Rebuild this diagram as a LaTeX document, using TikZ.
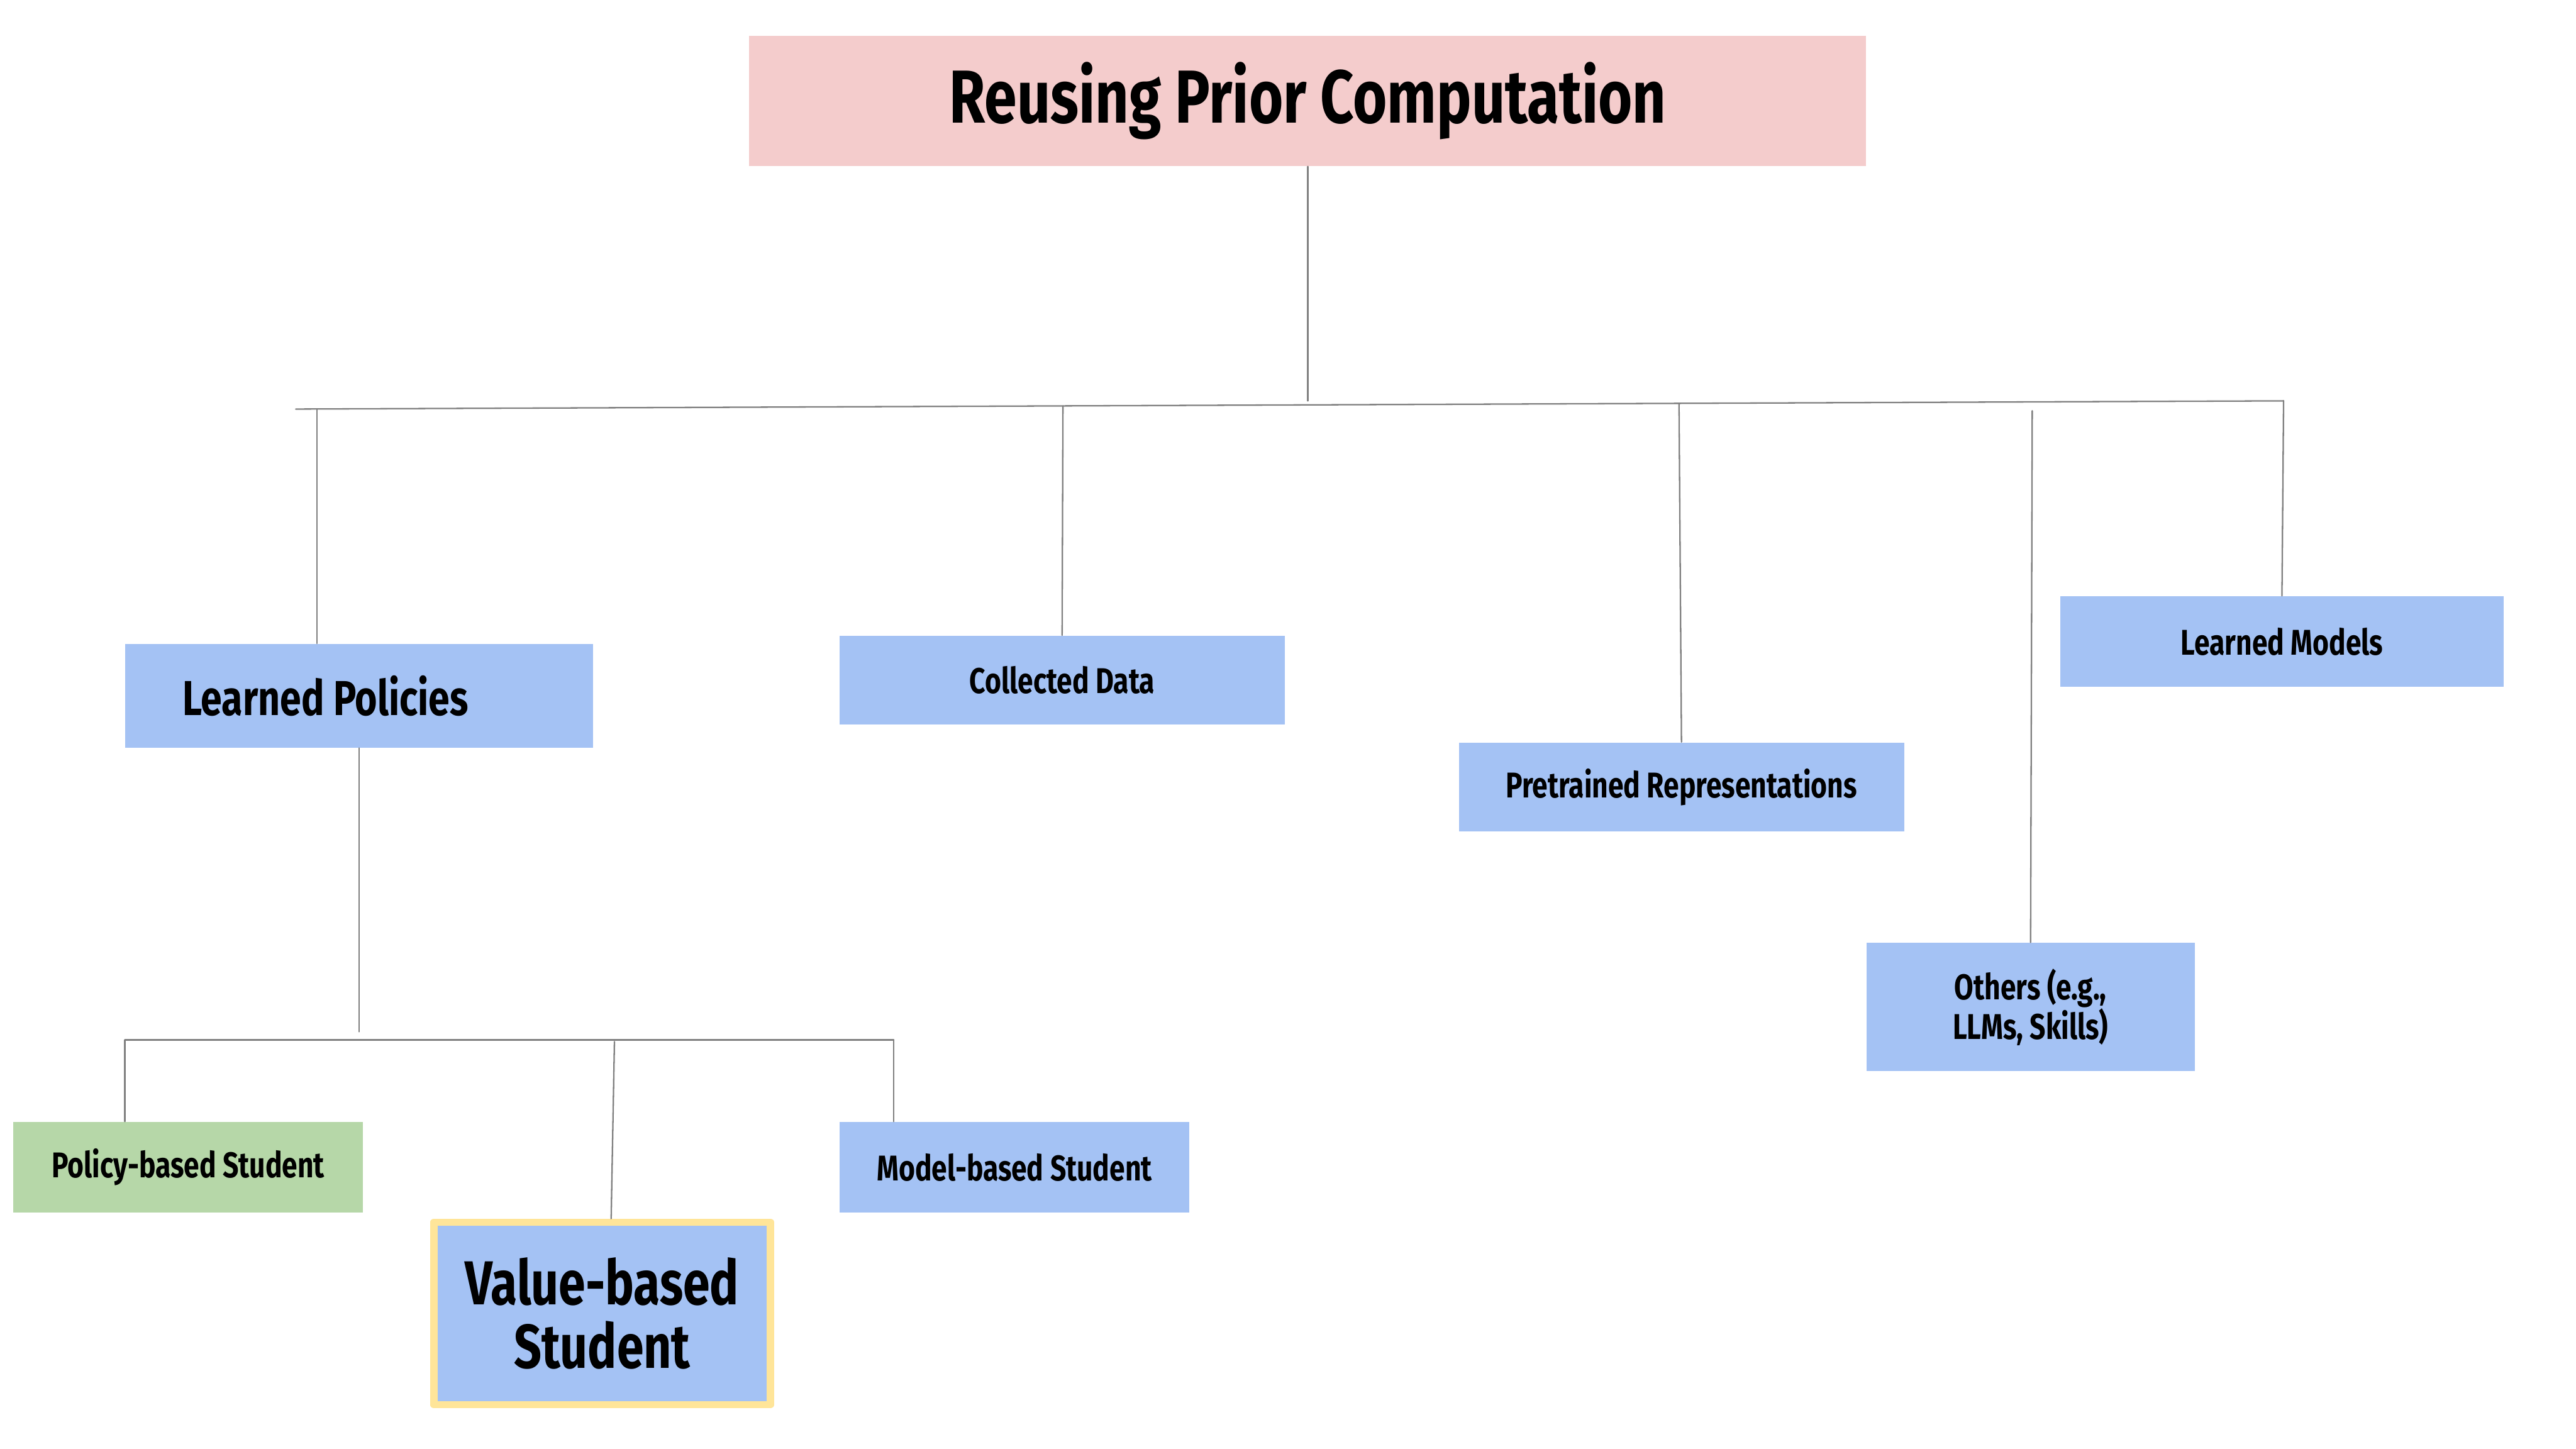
\documentclass[tikz,border=0pt]{standalone}
\usepackage{fontspec}
\setmainfont{Fira Sans}[FakeStretch=0.78]
\definecolor{rootpink}{HTML}{F4CCCC}
\definecolor{boxblue}{HTML}{A4C2F4}
\definecolor{boxgreen}{HTML}{B6D7A8}
\definecolor{markyellow}{HTML}{FFE599}
\tikzset{
  link/.style={draw=black!50, line width=0.5pt},
  topbox/.style={fill=boxblue, inner sep=0pt, align=center,
    minimum width=5.42cm, minimum height=1.08cm,
    font=\bfseries\fontsize{12.4}{13.8}\selectfont},
  leafbox/.style={topbox, minimum width=4.26cm, minimum height=1.1cm}
}
\begin{document}
\begin{tikzpicture}[x=0.02cm, y=-0.02cm, line cap=round, line join=round]
  \useasboundingbox (0,0) rectangle (1568,882);

  % Wurzel
  \node[fill=rootpink, minimum width=13.6cm, minimum height=1.58cm,
    inner sep=0pt, font=\bfseries\fontsize{26}{30}\selectfont]
    (root) at (796,61.5) {Reusing Prior Computation};

  % erste Ebene
  \node[fill=boxblue, inner xsep=0.7cm, inner ysep=0pt,
    minimum height=1.26cm,
    font=\bfseries\fontsize{17}{21}\selectfont]
    (lp) at (218.5,423.5) {\makebox[4.3cm][l]{Learned Policies}};
  \node[topbox] (cd) at (646.5,414) {Collected Data};
  \node[topbox] (pr) at (1023.5,479) {Pretrained Representations};
  \node[topbox, minimum width=4cm, minimum height=1.56cm]
    (oth) at (1236,613) {Others (e.g.,\\LLMs, Skills)};
  \node[topbox, minimum width=5.4cm, minimum height=1.1cm]
    (lm) at (1389,390.5) {Learned Models};

  % zweite Ebene
  \node[leafbox, fill=boxgreen] (pol) at (114.5,710.5) {Policy-based Student};
  \node[leafbox] (mod) at (617.5,710.5) {Model-based Student};
  \node[leafbox, draw=markyellow, line width=0.09cm,
    minimum width=4.1cm, minimum height=2.22cm,
    font=\bfseries\fontsize{21.5}{22}\selectfont]
    (val) at (366.5,799.5) {Value-based\\Student};

  % Verbindungen oben
  \coordinate (busL) at (180,249);
  \coordinate (busR) at (1390,244);
  \draw[link] (root.south) -- (796,244);
  \draw[link] (busL) -- (busR);
  \draw[link] (193,248.9) -- (lp.north -| 193,0);
  \draw[link] (647,247.1) -- (cd.north);
  \draw[link] (1022,245.5) -- (pr.north);
  \draw[link] (1237,250) -- (oth.north);
  \draw[link] (busR) -- (lm.north);

  % Verbindungen unten
  \coordinate (subL) at (76,633);
  \coordinate (subR) at (544,633);
  \draw[link] (lp.south) -- (218.5,628);
  \draw[link] (subL) -- (subR);
  \draw[link] (subL) -- (pol.north -| subL);
  \draw[link] (374,634) -- (val.north -| 372,0);
  \draw[link] (subR) -- (mod.north -| subR);
\end{tikzpicture}
\end{document}
